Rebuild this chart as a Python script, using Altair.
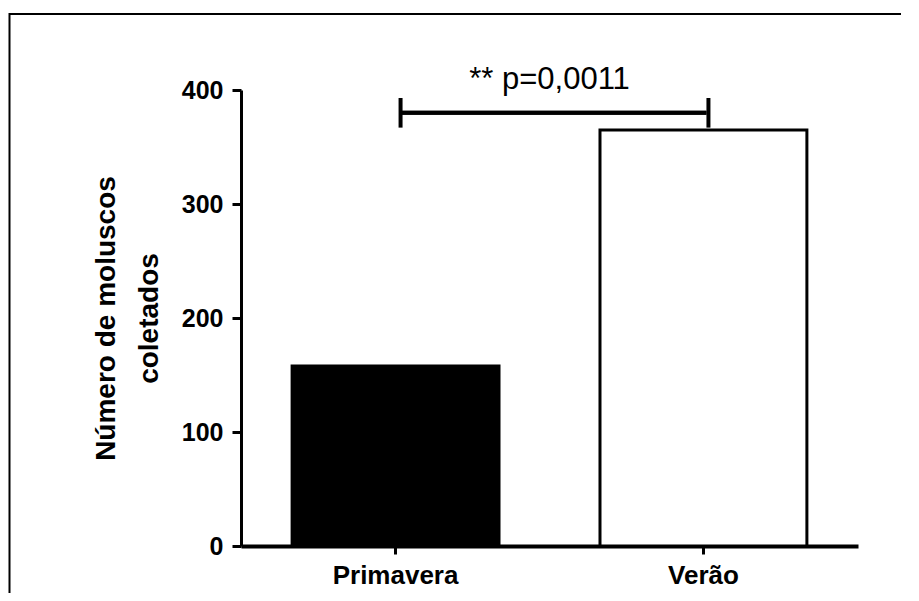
import altair as alt
import pandas as pd

# ---- data ----
categories = ["Primavera", "Verão"]
counts = [158, 365]
y_ticks = [0, 100, 200, 300, 400]
bracket_level = 380
bracket_cap_low = 367
bracket_cap_high = 393
p_label = "** p=0,0011"
p_label_level = 400.5
y_title = ["Número de moluscos", "coletados"]

df = pd.DataFrame({"estacao": categories, "n": counts})
caps_df = pd.DataFrame({"estacao": categories})

FONT = "Liberation Sans"
W, H = 617, 456

x_scale = alt.Scale(domain=categories, paddingInner=0.328, paddingOuter=0.166)
y_scale = alt.Scale(domain=[0, 400], nice=False, zero=True)

x_axis = alt.Axis(
    title=None, labelAngle=0, labelFont=FONT, labelFontSize=26,
    labelFontWeight="bold", labelColor="black", labelPadding=8,
    tickSize=8, tickWidth=3, tickColor="black",
    domainWidth=4, domainColor="black", grid=False,
)
y_axis = alt.Axis(
    values=y_ticks, title=y_title, titleFont=FONT, titleFontSize=28,
    titleFontWeight="bold", titleColor="black", titleLineHeight=43,
    titlePadding=18, labelFont=FONT, labelFontSize=25,
    labelFontWeight="bold", labelColor="black", labelPadding=9,
    tickSize=9, tickWidth=3, tickColor="black",
    domainWidth=3, domainColor="black", grid=False,
)

bars = alt.Chart(df).mark_bar(stroke="black", strokeWidth=3).encode(
    x=alt.X("estacao:N", scale=x_scale, sort=categories, axis=x_axis),
    y=alt.Y("n:Q", scale=y_scale, axis=y_axis),
    fill=alt.Fill("estacao:N", scale=alt.Scale(domain=categories, range=["black", "white"]), legend=None),
)

bracket = alt.Chart(df).mark_rule(color="black", strokeWidth=4, xOffset=6, x2Offset=3).encode(
    x=alt.datum(categories[0]),
    x2=alt.datum(categories[1]),
    y=alt.datum(bracket_level),
)

caps = alt.Chart(caps_df).mark_rule(color="black", strokeWidth=4, xOffset=5).encode(
    x=alt.X("estacao:N", scale=x_scale, sort=categories),
    y=alt.datum(bracket_cap_low),
    y2=alt.datum(bracket_cap_high),
)

label = alt.Chart(pd.DataFrame({"t": [p_label]})).mark_text(
    font=FONT, fontSize=31, color="black", align="center", baseline="alphabetic", xOffset=154
).encode(
    x=alt.datum(categories[0]),
    y=alt.datum(p_label_level),
    text="t:N",
)

# decorative figure frame (top and left edges; the rest is cut off in the reference)
frame_top = alt.Chart(pd.DataFrame({"k": [0]})).mark_rule(color="black", strokeWidth=2).encode(
    x=alt.value(-232), x2=alt.value(660), y=alt.value(-76)
)
frame_left = alt.Chart(pd.DataFrame({"k": [0]})).mark_rule(color="black", strokeWidth=2).encode(
    x=alt.value(-231.5), y=alt.value(-77), y2=alt.value(503)
)

chart = alt.layer(frame_top, frame_left, bars, bracket, caps, label).properties(
    width=W, height=H,
    background="white",
    autosize=alt.AutoSizeParams(type="none"),
    padding={"left": 233, "top": 82, "right": 53, "bottom": 47},
).configure_view(strokeWidth=0, stroke="transparent")

chart.save("out.html", embed_options={"renderer": "svg", "actions": False})
